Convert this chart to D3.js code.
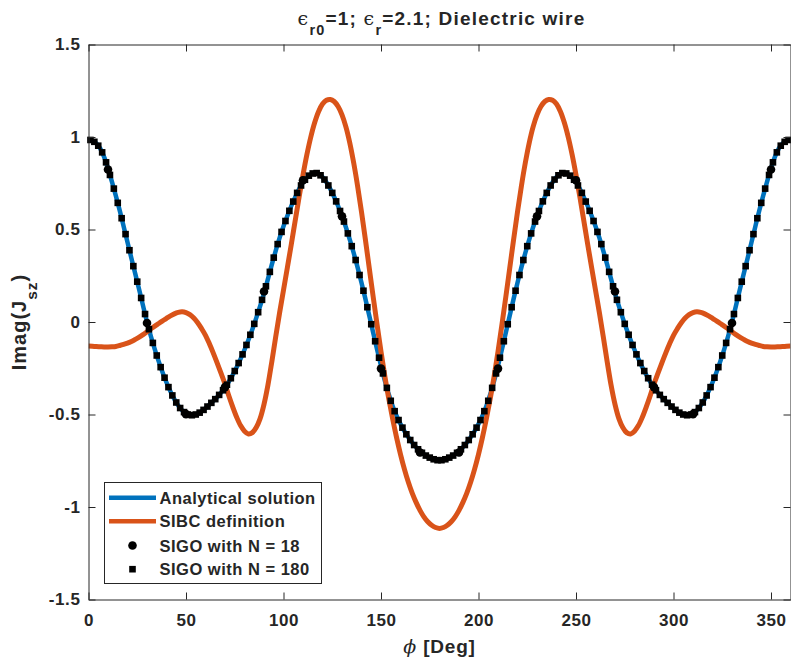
<!DOCTYPE html>
<html>
<head>
<meta charset="utf-8">
<script src="https://cdn.jsdelivr.net/npm/d3@7"></script>
<style>
  html, body { margin: 0; padding: 0; background: #fff; }
  svg { display: block; }
  text { font-family: "Liberation Sans", Arial, Helvetica, sans-serif; font-weight: bold; fill: #262626; }
</style>
</head>
<body>
<svg id="chart" width="791" height="663"></svg>
<script>
// Surface current Imag(J_sz) on a dielectric wire versus angle phi (degrees).

// Analytical solution, sampled every 2 degrees (0, 2, ..., 360)
const analyticPhi = d3.range(0, 361, 2);
const analyticVal = [
  0.985, 0.980, 0.965, 0.938, 0.893, 0.830, 0.759, 0.683, 0.603, 0.518,
  0.431, 0.345, 0.260, 0.174, 0.087, 0.000, -0.077, -0.148, -0.213, -0.273,
  -0.327, -0.375, -0.417, -0.451, -0.477, -0.495, -0.503, -0.503, -0.496, -0.483,
  -0.466, -0.447, -0.427, -0.406, -0.382, -0.355, -0.322, -0.285, -0.244, -0.199,
  -0.150, -0.097, -0.040, 0.021, 0.086, 0.155, 0.232, 0.310, 0.385, 0.455,
  0.517, 0.574, 0.627, 0.675, 0.719, 0.755, 0.781, 0.798, 0.806, 0.801,
  0.783, 0.755, 0.719, 0.676, 0.627, 0.572, 0.512, 0.445, 0.373, 0.295,
  0.212, 0.125, 0.034, -0.058, -0.149, -0.236, -0.318, -0.392, -0.455, -0.507,
  -0.551, -0.590, -0.623, -0.652, -0.677, -0.698, -0.715, -0.728, -0.738, -0.745,
  -0.748,
  -0.745, -0.738, -0.728, -0.715, -0.698, -0.677, -0.652, -0.623, -0.590, -0.551,
  -0.507, -0.455, -0.392, -0.318, -0.236, -0.149, -0.058, 0.034, 0.125, 0.212,
  0.295, 0.373, 0.445, 0.512, 0.572, 0.627, 0.676, 0.719, 0.755, 0.783,
  0.801, 0.806, 0.798, 0.781, 0.755, 0.719, 0.675, 0.627, 0.574, 0.517,
  0.455, 0.385, 0.310, 0.232, 0.155, 0.086, 0.021, -0.040, -0.097, -0.150,
  -0.199, -0.244, -0.285, -0.322, -0.355, -0.382, -0.406, -0.427, -0.447, -0.466,
  -0.483, -0.496, -0.503, -0.503, -0.495, -0.477, -0.451, -0.417, -0.375, -0.327,
  -0.273, -0.213, -0.148, -0.077, 0.000, 0.087, 0.174, 0.260, 0.345, 0.431,
  0.518, 0.603, 0.683, 0.759, 0.830, 0.893, 0.938, 0.965, 0.980, 0.985
];

// SIBC definition, sampled every 2 degrees
const sibcPhi = d3.range(0, 361, 2);
const sibcVal = [
  -0.130, -0.131, -0.133, -0.134, -0.135, -0.135, -0.134, -0.132, -0.127, -0.121,
  -0.114, -0.105, -0.094, -0.082, -0.068, -0.053, -0.037, -0.022, -0.008, 0.006,
  0.020, 0.033, 0.044, 0.052, 0.055, 0.051, 0.040, 0.022, -0.004, -0.036,
  -0.072, -0.118, -0.168, -0.222, -0.278, -0.335, -0.400, -0.460, -0.515, -0.560,
  -0.590, -0.605, -0.598, -0.570, -0.522, -0.445, -0.342, -0.215, -0.080, 0.050,
  0.172, 0.295, 0.420, 0.548, 0.675, 0.795, 0.905, 1.000, 1.078, 1.138,
  1.178, 1.199, 1.203, 1.192, 1.165, 1.120, 1.055, 0.968, 0.860, 0.735,
  0.595, 0.445, 0.290, 0.135, -0.015, -0.160, -0.295, -0.415, -0.525, -0.625,
  -0.715, -0.795, -0.865, -0.925, -0.975, -1.018, -1.053, -1.080, -1.099, -1.111,
  -1.116,
  -1.111, -1.099, -1.080, -1.053, -1.018, -0.975, -0.925, -0.865, -0.795, -0.715,
  -0.625, -0.525, -0.415, -0.295, -0.160, -0.015, 0.135, 0.290, 0.445, 0.595,
  0.735, 0.860, 0.968, 1.055, 1.120, 1.165, 1.192, 1.203, 1.199, 1.178,
  1.138, 1.078, 1.000, 0.905, 0.795, 0.675, 0.548, 0.420, 0.295, 0.172,
  0.050, -0.080, -0.215, -0.342, -0.445, -0.522, -0.570, -0.598, -0.605, -0.590,
  -0.560, -0.515, -0.460, -0.400, -0.335, -0.278, -0.222, -0.168, -0.118, -0.072,
  -0.036, -0.004, 0.022, 0.040, 0.051, 0.055, 0.052, 0.044, 0.033, 0.020,
  0.006, -0.008, -0.022, -0.037, -0.053, -0.068, -0.082, -0.094, -0.105, -0.114,
  -0.121, -0.127, -0.132, -0.134, -0.135, -0.135, -0.134, -0.133, -0.131, -0.130
];

// SIGO with N = 18: one value at the centre of each 20-degree segment
const sigo18Phi = d3.range(10, 360, 20);
const sigo18Val = [
  0.824, -0.005, -0.498, -0.352, 0.165, 0.766, 0.571, -0.252, -0.705,
  -0.705, -0.252, 0.571, 0.766, 0.165, -0.352, -0.498, -0.005, 0.824
];

// SIGO with N = 180: one value at the centre of each 2-degree segment
const sigo180Phi = d3.range(1, 360, 2);
const sigo180Val = [
  0.984, 0.974, 0.953, 0.917, 0.863, 0.795, 0.721, 0.644, 0.561, 0.475,
  0.388, 0.302, 0.218, 0.130, 0.043, -0.039, -0.113, -0.181, -0.244, -0.301,
  -0.352, -0.397, -0.435, -0.465, -0.487, -0.500, -0.504, -0.500, -0.490, -0.475,
  -0.457, -0.437, -0.417, -0.394, -0.369, -0.339, -0.304, -0.265, -0.222, -0.175,
  -0.124, -0.069, -0.010, 0.053, 0.120, 0.193, 0.271, 0.348, 0.421, 0.487,
  0.546, 0.601, 0.651, 0.698, 0.738, 0.769, 0.791, 0.803, 0.805, 0.793,
  0.770, 0.738, 0.698, 0.652, 0.600, 0.543, 0.479, 0.410, 0.335, 0.254,
  0.169, 0.080, -0.012, -0.104, -0.193, -0.278, -0.356, -0.426, -0.482, -0.530,
  -0.571, -0.607, -0.638, -0.665, -0.688, -0.707, -0.722, -0.733, -0.742, -0.747,
  -0.747, -0.742, -0.733, -0.722, -0.707, -0.688, -0.665, -0.638, -0.607, -0.571,
  -0.530, -0.482, -0.426, -0.356, -0.278, -0.193, -0.104, -0.012, 0.080, 0.169,
  0.254, 0.335, 0.410, 0.479, 0.543, 0.600, 0.652, 0.698, 0.738, 0.770,
  0.793, 0.805, 0.803, 0.791, 0.769, 0.738, 0.698, 0.651, 0.601, 0.546,
  0.487, 0.421, 0.348, 0.271, 0.193, 0.120, 0.053, -0.010, -0.069, -0.124,
  -0.175, -0.222, -0.265, -0.304, -0.339, -0.369, -0.394, -0.417, -0.437, -0.457,
  -0.475, -0.490, -0.500, -0.504, -0.500, -0.487, -0.465, -0.435, -0.397, -0.352,
  -0.301, -0.244, -0.181, -0.113, -0.039, 0.043, 0.130, 0.218, 0.302, 0.388,
  0.475, 0.561, 0.644, 0.721, 0.795, 0.863, 0.917, 0.953, 0.974, 0.984
];

// Axis ticks
const xTicks = [0, 50, 100, 150, 200, 250, 300, 350];
const yTicks = [-1.5, -1, -0.5, 0, 0.5, 1, 1.5];

const legendLabels = ["Analytical solution", "SIBC definition", "SIGO with N = 18", "SIGO with N = 180"];

const colors = { analytic: "#0072BD", sibc: "#D95319", marker: "#000000", axis: "#262626" };

const box = { left: 88.5, right: 790.5, top: 44.5, bottom: 599.5 };

const svg = d3.select("#chart");

const x = d3.scaleLinear().domain([0, 360]).range([box.left, box.right]);
const y = d3.scaleLinear().domain([-1.5, 1.5]).range([box.bottom, box.top]);

svg.append("defs").append("clipPath").attr("id", "plotClip")
  .append("rect")
  .attr("x", box.left).attr("y", box.top)
  .attr("width", box.right - box.left).attr("height", box.bottom - box.top);

const plot = svg.append("g");

const line = d3.line()
  .x(d => x(d[0]))
  .y(d => y(d[1]))
  .curve(d3.curveCatmullRom.alpha(0.5));

plot.append("path")
  .datum(analyticPhi.map((p, i) => [p, analyticVal[i]]))
  .attr("clip-path", "url(#plotClip)")
  .attr("fill", "none")
  .attr("stroke", colors.analytic)
  .attr("stroke-width", 4.5)
  .attr("stroke-linejoin", "round")
  .attr("d", line);

plot.append("path")
  .datum(sibcPhi.map((p, i) => [p, sibcVal[i]]))
  .attr("clip-path", "url(#plotClip)")
  .attr("fill", "none")
  .attr("stroke", colors.sibc)
  .attr("stroke-width", 5)
  .attr("stroke-linejoin", "round")
  .attr("d", line);

plot.append("g").selectAll("circle")
  .data(sigo18Phi.map((p, i) => [p, sigo18Val[i]]))
  .join("circle")
  .attr("cx", d => x(d[0]))
  .attr("cy", d => y(d[1]))
  .attr("r", 4.3)
  .attr("fill", colors.marker);

const sq = 6.6;
plot.append("g").selectAll("rect")
  .data(sigo180Phi.map((p, i) => [p, sigo180Val[i]]))
  .join("rect")
  .attr("x", d => x(d[0]) - sq / 2)
  .attr("y", d => y(d[1]) - sq / 2)
  .attr("width", sq)
  .attr("height", sq)
  .attr("fill", colors.marker);

// Axes: ticks point inward on all four sides, labels on bottom and left
const fmt = d => String(d);
const tickLen = 7;

function styleAxis(g) {
  g.attr("font-family", null).attr("font-size", null);
  g.select(".domain").attr("stroke", colors.axis).attr("stroke-width", 1);
  g.selectAll(".tick line").attr("stroke", colors.axis).attr("stroke-width", 1);
  g.selectAll(".tick text").attr("fill", colors.axis)
    .style("font-size", "17px").style("letter-spacing", "0.6px");
}

svg.append("g")
  .attr("transform", `translate(0,${box.bottom})`)
  .call(d3.axisBottom(x).tickValues(xTicks).tickFormat(fmt).tickSizeInner(-tickLen).tickSizeOuter(0).tickPadding(14))
  .call(styleAxis);

svg.append("g")
  .attr("transform", `translate(0,${box.top})`)
  .call(d3.axisTop(x).tickValues(xTicks).tickFormat("").tickSizeInner(-tickLen).tickSizeOuter(0))
  .call(styleAxis);

svg.append("g")
  .attr("transform", `translate(${box.left},0)`)
  .call(d3.axisLeft(y).tickValues(yTicks).tickFormat(fmt).tickSizeInner(-tickLen).tickSizeOuter(0).tickPadding(8))
  .call(styleAxis);

svg.append("g")
  .attr("transform", `translate(${box.right},0)`)
  .call(d3.axisRight(y).tickValues(yTicks).tickFormat("").tickSizeInner(-tickLen).tickSizeOuter(0))
  .call(styleAxis);

const cx = (box.left + box.right) / 2;
const cy = (box.top + box.bottom) / 2;

// Title with TeX-like subscripts
const title = svg.append("text")
  .attr("x", cx + 2).attr("y", 25)
  .attr("text-anchor", "middle")
  .style("font-size", "19px")
  .style("letter-spacing", "1.2px");
title.append("tspan").text("\u03F5").style("font-family", "'DejaVu Serif', serif").style("font-weight", "normal");
title.append("tspan").text("r0").attr("dy", 10).style("font-size", "14.5px");
title.append("tspan").text("=1; ").attr("dy", -10);
title.append("tspan").text("\u03F5").style("font-family", "'DejaVu Serif', serif").style("font-weight", "normal");
title.append("tspan").text("r").attr("dy", 10).style("font-size", "14.5px");
title.append("tspan").text("=2.1; Dielectric wire").attr("dy", -10);

// X axis label
const xl = svg.append("text")
  .attr("x", cx).attr("y", 653)
  .attr("text-anchor", "middle")
  .style("font-size", "19px")
  .style("letter-spacing", "0.8px");
xl.append("tspan").text("\u03D5").style("font-family", "'DejaVu Serif', serif").style("font-style", "italic").style("font-weight", "normal");
xl.append("tspan").text(" [Deg]");

// Y axis label
const yl = svg.append("text")
  .attr("transform", `translate(26,${cy}) rotate(-90)`)
  .attr("text-anchor", "middle")
  .style("font-size", "20px")
  .style("letter-spacing", "1px");
yl.append("tspan").text("Imag(J");
yl.append("tspan").text("sz").attr("dy", 11).style("font-size", "15.5px");
yl.append("tspan").text(")").attr("dy", -11);

// Legend
const lg = svg.append("g");
lg.append("rect")
  .attr("x", 104.5).attr("y", 482.5)
  .attr("width", 217).attr("height", 101)
  .attr("fill", "#fff")
  .attr("stroke", colors.axis)
  .attr("stroke-width", 1);

const rowY = [497.7, 521.3, 545.5, 569.2];
const sampleX0 = 109, sampleX1 = 156, sampleXc = 132.5, textX = 159.5;

lg.append("line")
  .attr("x1", sampleX0).attr("x2", sampleX1).attr("y1", rowY[0]).attr("y2", rowY[0])
  .attr("stroke", colors.analytic).attr("stroke-width", 4.5);
lg.append("line")
  .attr("x1", sampleX0).attr("x2", sampleX1).attr("y1", rowY[1]).attr("y2", rowY[1])
  .attr("stroke", colors.sibc).attr("stroke-width", 4.5);
lg.append("circle")
  .attr("cx", sampleXc).attr("cy", rowY[2]).attr("r", 4.3).attr("fill", colors.marker);
lg.append("rect")
  .attr("x", sampleXc - sq / 2).attr("y", rowY[3] - sq / 2)
  .attr("width", sq).attr("height", sq).attr("fill", colors.marker);

lg.selectAll("text.entry")
  .data(legendLabels)
  .join("text")
  .attr("class", "entry")
  .attr("x", textX)
  .attr("y", (d, i) => rowY[i] + 6)
  .style("font-size", "16.5px")
  .style("letter-spacing", "0.5px")
  .text(d => d);
</script>
</body>
</html>
